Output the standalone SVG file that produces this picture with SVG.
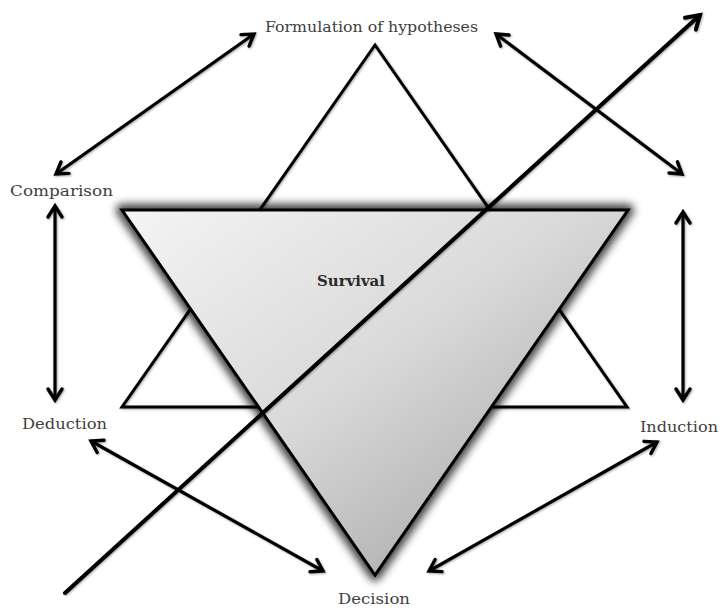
<svg xmlns="http://www.w3.org/2000/svg" width="722" height="608" viewBox="0 0 722 608">
<style>
.lbl{font-family:"DejaVu Serif","Liberation Serif",serif;font-size:14px;fill:#404040;}
.bold{font-weight:bold;fill:#2a2a2a;}
.tri{fill:none;stroke:#000;stroke-width:3;stroke-linejoin:miter;}
.arr{fill:none;stroke:#000;stroke-width:3.2;marker-start:url(#ah);marker-end:url(#ah);}
</style>
<defs>
<marker id="ah" markerUnits="userSpaceOnUse" markerWidth="20" markerHeight="20" viewBox="0 0 20 20" refX="15" refY="10" orient="auto-start-reverse">
<path d="M4,3 L15,10 L4,17" fill="none" stroke="#000" stroke-width="3.4" stroke-linecap="round" stroke-linejoin="miter"/>
</marker>
<marker id="ah1" markerUnits="userSpaceOnUse" markerWidth="22" markerHeight="22" viewBox="0 0 22 22" refX="17" refY="11" orient="auto">
<path d="M4,3 L17,11 L4,19" fill="none" stroke="#000" stroke-width="4" stroke-linecap="round"/>
</marker>
<linearGradient id="g" x1="0" y1="0" x2="1" y2="1">
<stop offset="0" stop-color="#f4f4f4"/>
<stop offset="0.45" stop-color="#dadada"/>
<stop offset="1" stop-color="#9a9a9a"/>
</linearGradient>
<filter id="glow" x="-20%" y="-20%" width="140%" height="140%">
<feGaussianBlur stdDeviation="4.5"/>
</filter>
<filter id="soft" x="-10%" y="-10%" width="120%" height="120%">
<feGaussianBlur in="SourceAlpha" stdDeviation="1.2" result="b"/>
<feOffset dx="1" dy="1" result="o"/>
<feComponentTransfer in="o" result="s"><feFuncA type="linear" slope="0.35"/></feComponentTransfer>
<feMerge><feMergeNode in="s"/><feMergeNode in="SourceGraphic"/></feMerge>
</filter>
</defs>
<rect width="722" height="608" fill="#fff"/>
<g id="up-triangle" filter="url(#soft)">
<polygon class="tri" points="375,45 122,407 627,407"/>
</g>
<g id="survival">
<polygon points="122,210 628,210 375,575" fill="#000" stroke="#000" stroke-width="12" stroke-linejoin="round" opacity="0.75" filter="url(#glow)"/>
<polygon points="122,210 628,210 375,575" fill="url(#g)" stroke="#000" stroke-width="3"/>
<text class="lbl bold" x="351" y="286" text-anchor="middle" textLength="68" lengthAdjust="spacingAndGlyphs">Survival</text>
</g>
<g id="connectors" filter="url(#soft)">
<line x1="65" y1="593" x2="700" y2="15" stroke="#000" stroke-width="4" stroke-linecap="round" marker-end="url(#ah1)"/>
<line class="arr" x1="56" y1="174" x2="254" y2="34"/>
<line class="arr" x1="496" y1="34" x2="682" y2="174"/>
<line class="arr" x1="55" y1="206" x2="55" y2="400"/>
<line class="arr" x1="683" y1="212" x2="683" y2="400"/>
<line class="arr" x1="91" y1="441" x2="323" y2="571"/>
<line class="arr" x1="657" y1="442" x2="429" y2="571"/>
</g>
<g id="formulation"><text class="lbl" x="265" y="32" textLength="213" lengthAdjust="spacingAndGlyphs">Formulation of hypotheses</text></g>
<g id="comparison"><text class="lbl" x="10" y="196" textLength="103" lengthAdjust="spacingAndGlyphs">Comparison</text></g>
<g id="deduction"><text class="lbl" x="22" y="429" textLength="85" lengthAdjust="spacingAndGlyphs">Deduction</text></g>
<g id="induction"><text class="lbl" x="640" y="432" textLength="78" lengthAdjust="spacingAndGlyphs">Induction</text></g>
<g id="decision"><text class="lbl" x="338" y="604" textLength="72" lengthAdjust="spacingAndGlyphs">Decision</text></g>
</svg>
